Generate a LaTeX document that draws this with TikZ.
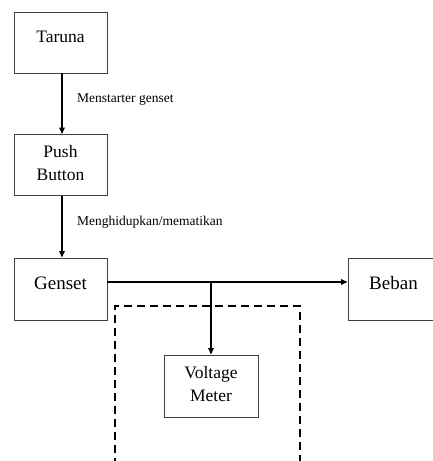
\documentclass[tikz,border=0pt]{standalone}
\usepackage{fontspec}
\setmainfont{Liberation Serif}
\usetikzlibrary{arrows.meta}
\begin{document}
\begin{tikzpicture}[x=1pt,y=1pt,
  box/.style={draw=black!75,line width=0.9pt,minimum width=93pt,minimum height=61pt,inner sep=0pt},
  boxtxt/.style={font=\fontsize{17.5}{23}\selectfont,align=center},
  bigtxt/.style={font=\fontsize{19}{23}\selectfont},
  lbl/.style={font=\fontsize{13.5}{16}\selectfont,anchor=west,inner sep=0pt},
  arr/.style={line width=1.6pt,-{Triangle[length=6.5pt,width=5.5pt]}},
  dash box/.style={line width=1.5pt,dash pattern=on 8pt off 5pt}]
\useasboundingbox (0,0) rectangle (433,461);
\clip (0,0) rectangle (433,461);
\node[box] (taruna) at (60.5,418.5) {};
\node[boxtxt] (tarunat) at ([yshift=5.5pt]taruna.center) {Taruna};
\node[box] (push) at (60.5,296) {};
\node[boxtxt] (pusht) at ([yshift=2pt]push.center) {Push\\Button};
\node[box,minimum height=62pt] (genset) at (60.5,172) {};
\node[bigtxt] (gensett) at ([yshift=6pt]genset.center) {Genset};
\node[box,minimum height=62pt] (beban) at (394.5,172) {};
\node[bigtxt] (bebant) at ([yshift=6pt,xshift=-1pt]beban.center) {Beban};
\node[box,minimum width=94pt,minimum height=62pt] (volt) at (211,75) {};
\node[boxtxt] (voltt) at ([yshift=1.5pt]volt.center) {Voltage\\Meter};
\draw[arr] ([xshift=1.5pt]taruna.south) -- ([xshift=1.5pt]push.north);
\node[lbl] (l1) at (77,361) {Menstarter genset};
\draw[arr] ([xshift=1.5pt]push.south) -- ([xshift=1.5pt]genset.north);
\node[lbl] (l2) at (77,239) {Menghidupkan/mematikan};
\coordinate (j) at (211,179);
\draw[arr] ([yshift=7pt]genset.east) -- ([yshift=7pt]beban.west);
\draw[arr] (j) -- (volt.north);
\coordinate (d1) at (115,-5);
\coordinate (d2) at (115,155);
\coordinate (d3) at (300,155);
\coordinate (d4) at (300,-5);
\draw[dash box] (d1) -- (d2) -- (d3) -- (d4);
\end{tikzpicture}
\end{document}
